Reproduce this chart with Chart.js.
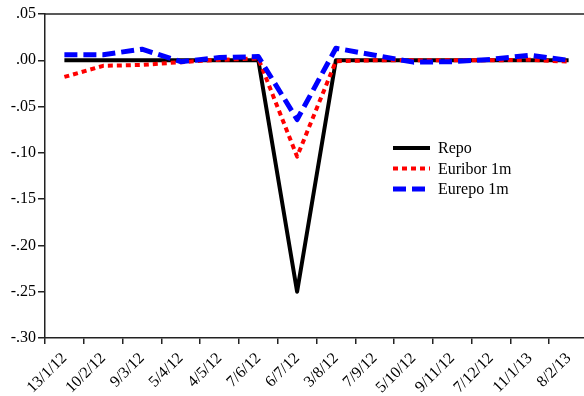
<!DOCTYPE html>
<html>
<head>
<meta charset="utf-8">
<script src="https://cdn.jsdelivr.net/npm/chart.js@4.4.0/dist/chart.umd.min.js"></script>
<style>
  html, body { margin: 0; padding: 0; background: #fff; overflow: hidden; }
  #wrap { width: 584px; height: 396px; overflow: hidden; }
</style>
</head>
<body>
<div id="wrap"><canvas id="chart" width="590" height="396"></canvas></div>
<script>
// datos
const labels = ['13/1/12', '10/2/12', '9/3/12', '5/4/12', '4/5/12', '7/6/12', '6/7/12',
  '3/8/12', '7/9/12', '5/10/12', '9/11/12', '7/12/12', '11/1/13', '8/2/13'];
const repo = [0, 0, 0, 0, 0, 0, -0.25, 0, 0, 0, 0, 0, 0, 0];
const euribor = [-0.018, -0.006, -0.005, -0.002, 0.0005, 0.002, -0.104, -0.001, 0, 0, 0, 0, 0.0005, -0.0015];
const eurepo = [0.006, 0.006, 0.012, -0.0015, 0.003, 0.004, -0.064, 0.013, 0.0055, -0.002, -0.0015, 0.001, 0.0055, 0];
const yTicks = { min: -0.30, max: 0.05, step: 0.05 };

const serif = "'Liberation Serif', 'Times New Roman', serif";

const frameTop = {
  id: 'frameTop',
  afterDraw(chart) {
    const { ctx, chartArea } = chart;
    ctx.save();
    ctx.strokeStyle = '#222';
    ctx.lineWidth = 1.5;
    ctx.beginPath();
    ctx.moveTo(chartArea.left, chartArea.top);
    ctx.lineTo(chartArea.right, chartArea.top);
    ctx.stroke();
    ctx.restore();
  }
};

// leyenda dentro del area
const insideLegend = {
  id: 'insideLegend',
  afterDraw(chart) {
    const ctx = chart.ctx;
    const x = 393, y = 148, row = 20.5;
    ctx.save();
    ctx.font = '16px ' + serif;
    ctx.textBaseline = 'middle';
    chart.data.datasets.forEach((ds, i) => {
      const yy = y + i * row;
      ctx.strokeStyle = ds.borderColor;
      ctx.lineWidth = ds.borderWidth;
      ctx.setLineDash(ds.borderDash || []);
      ctx.beginPath();
      ctx.moveTo(x, yy);
      ctx.lineTo(x + 37, yy);
      ctx.stroke();
      ctx.setLineDash([]);
      ctx.fillStyle = '#000';
      ctx.fillText(ds.label, x + 45, yy + 1);
    });
    ctx.restore();
  }
};

new Chart(document.getElementById('chart'), {
  type: 'line',
  data: {
    labels: labels,
    datasets: [{
      label: 'Repo',
      data: repo,
      borderColor: '#000',
      borderWidth: 4,
      order: 2
    }, {
      label: 'Euribor 1m',
      data: euribor,
      borderColor: '#ff0000',
      borderWidth: 4,
      borderDash: [5, 4],
      order: 1
    }, {
      label: 'Eurepo 1m',
      data: eurepo,
      borderColor: '#0000ff',
      borderWidth: 5,
      borderDash: [13, 6],
      order: 0
    }]
  },
  options: {
    responsive: false,
    animation: false,
    layout: { padding: { top: 14, right: 2, left: 0, bottom: 0 } },
    elements: { point: { radius: 0 }, line: { tension: 0, borderJoinStyle: 'round' } },
    plugins: { legend: { display: false }, tooltip: { enabled: false } },
    scales: {
      x: {
        offset: true,
        grid: { offset: true, drawOnChartArea: false, drawTicks: true, tickLength: 6, color: '#222', lineWidth: 1.5 },
        border: { color: '#222', width: 1.5 },
        ticks: {
          color: '#000',
          font: { family: serif, size: 16 },
          minRotation: 45, maxRotation: 45,
          autoSkip: false,
          padding: 5
        },
        afterFit(scale) { scale.height = 58; }
      },
      y: {
        min: yTicks.min,
        max: yTicks.max,
        grid: { drawOnChartArea: false, drawTicks: true, tickLength: 7, color: '#222', lineWidth: 1.5 },
        border: { color: '#222', width: 1.5 },
        ticks: {
          stepSize: yTicks.step,
          color: '#000',
          font: { family: serif, size: 16 },
          padding: 2,
          callback: v => v.toFixed(2).replace('0.', '.')
        },
        afterFit(scale) { scale.width = 45; }
      }
    }
  },
  plugins: [frameTop, insideLegend]
});
</script>
</body>
</html>
